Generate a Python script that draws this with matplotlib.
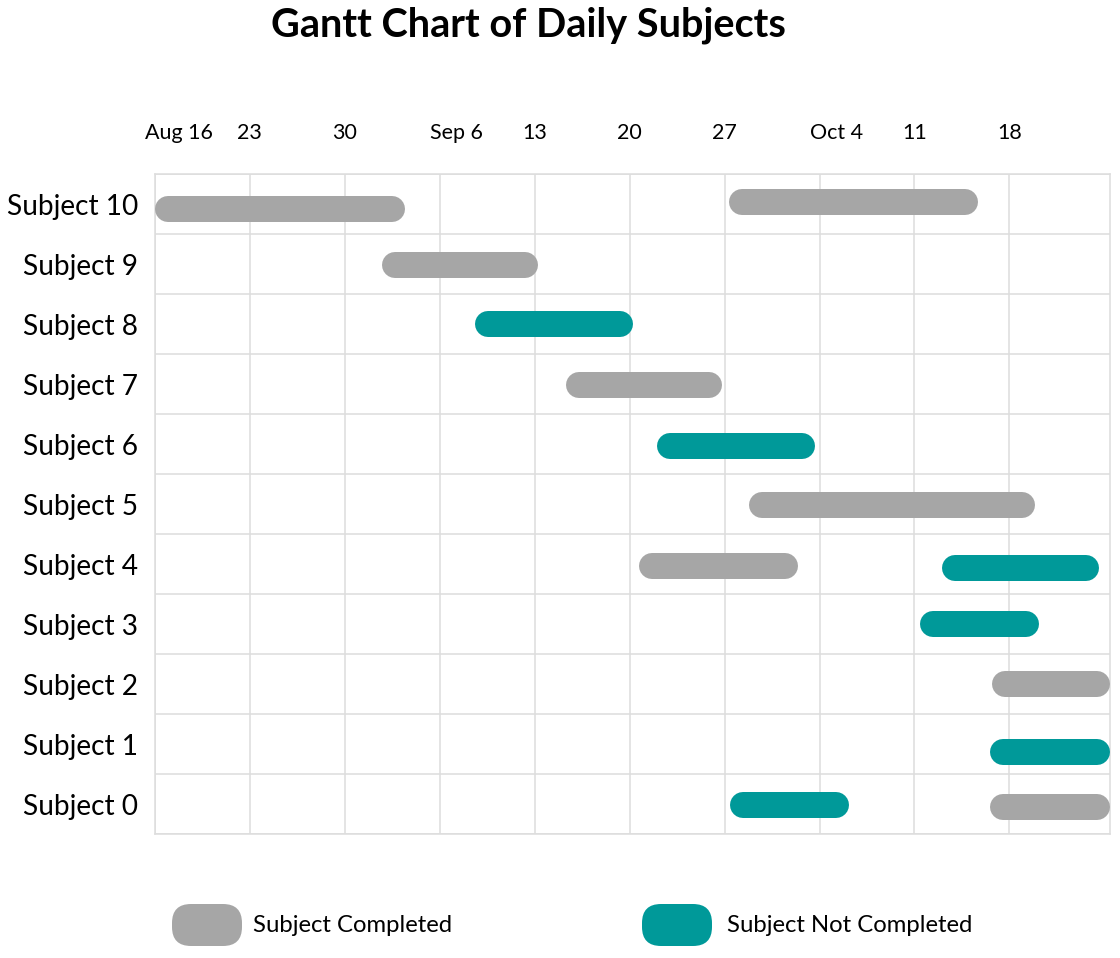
import matplotlib
matplotlib.use("Agg")
import matplotlib.pyplot as plt
import matplotlib.dates as mdates
import matplotlib.transforms as mtransforms
from matplotlib.patches import FancyBboxPatch
import pandas as pd

plt.rcParams['font.family'] = ['Lato', 'DejaVu Sans']

# ---------------- data ----------------
title = "Gantt Chart of Daily Subjects"
subjects = [f"Subject {i}" for i in range(11)]
bar_row = [9.92, 10.04, 8.99, 8.0, 6.98, 5.97, 4.98, 3.96, 3.94, 3.0, 2.0, 0.86, -0.02, -0.05]
bar_start = ["2020-08-16 00:00", "2020-09-27 07:00", "2020-09-01 17:00", "2020-09-08 14:00",
             "2020-09-15 07:00", "2020-09-22 01:00", "2020-09-28 19:00", "2020-09-20 17:00",
             "2020-10-13 00:00", "2020-10-11 10:00", "2020-10-16 17:00", "2020-10-16 14:00",
             "2020-09-27 10:00", "2020-10-16 14:00"]
bar_end = ["2020-09-03 11:00", "2020-10-15 17:00", "2020-09-13 05:00", "2020-09-20 05:00",
           "2020-09-26 20:00", "2020-10-03 16:00", "2020-10-19 22:00", "2020-10-02 10:00",
           "2020-10-24 14:00", "2020-10-20 05:00", "2020-10-25 10:00", "2020-10-25 10:00",
           "2020-10-06 05:00", "2020-10-25 10:00"]
bar_status = ["Completed", "Completed", "Completed", "Not Completed",
              "Completed", "Not Completed", "Completed", "Completed",
              "Not Completed", "Not Completed", "Completed", "Not Completed",
              "Not Completed", "Completed"]
tick_dates = ["2020-08-16", "2020-08-23", "2020-08-30", "2020-09-06", "2020-09-13",
              "2020-09-20", "2020-09-27", "2020-10-04", "2020-10-11", "2020-10-18"]
tick_labels = ["Aug 16", "23", "30", "Sep 6", "13", "20", "27", "Oct 4", "11", "18"]
legend_labels = ["Subject Completed", "Subject Not Completed"]
status_order = ["Completed", "Not Completed"]

# ---------------- style ----------------
colors = {"Completed": "#a6a6a6", "Not Completed": "#009999"}
grid_color = "#dddddd"
W, H, DPI = 1120, 958, 100

fig = plt.figure(figsize=(W / DPI, H / DPI), dpi=DPI)
ax_l, ax_r, ax_t, ax_b = 155, 1110, 174, 834
ax = fig.add_axes([ax_l / W, 1 - ax_b / H, (ax_r - ax_l) / W, (ax_b - ax_t) / H])

starts = mdates.date2num(pd.to_datetime(bar_start))
ends = mdates.date2num(pd.to_datetime(bar_end))
xmin, xmax = starts.min(), ends.max()
ax.set_xlim(xmin, xmax)
ax.set_ylim(-0.5, len(subjects) - 0.5)

bar_px = 26
px_per_day = (ax_r - ax_l) / (xmax - xmin)
r_days = (bar_px / 2) / px_per_day
for s, e, y, st in zip(starts, ends, bar_row, bar_status):
    ax.plot([s + r_days, e - r_days], [y, y], color=colors[st],
            lw=bar_px * 72 / DPI, solid_capstyle='round', zorder=3)

# x ticks: weekly, labels on top
tick_nums = mdates.date2num(pd.to_datetime(tick_dates))
ax.set_xticks(tick_nums)
ax.tick_params(axis='x', length=0, labelbottom=False, labeltop=False)
trans = mtransforms.blended_transform_factory(ax.transData, ax.transAxes)
up = mtransforms.ScaledTranslation(0, 35 / DPI, fig.dpi_scale_trans)
for tn, lab in zip(tick_nums, tick_labels):
    if not lab.isdigit():
        off = mtransforms.ScaledTranslation(-10 / DPI, 0, fig.dpi_scale_trans)
        ax.text(tn, 1.0, lab, transform=trans + up + off, ha='left', va='baseline',
                fontsize=15.5, color='black', clip_on=False)
    else:
        ax.text(tn, 1.0, lab, transform=trans + up, ha='center', va='baseline',
                fontsize=15.5, color='black', clip_on=False)

# y ticks
ax.set_yticks(range(len(subjects)))
ax.set_yticklabels(subjects, fontsize=20.2)
ax.set_yticks([i - 0.5 for i in range(len(subjects) + 1)], minor=True)
ax.tick_params(axis='y', which='both', length=0, pad=12)
ax.grid(axis='x', which='major', color=grid_color, lw=1.1, zorder=0)
ax.grid(axis='y', which='minor', color=grid_color, lw=1.1, zorder=0)
ax.set_axisbelow(True)
for sp in ax.spines.values():
    sp.set_color(grid_color)
    sp.set_linewidth(1.1)

# title
fig.text(528 / W, 1 - 25 / H, title, ha='center', va='center', fontsize=28.5, fontweight='bold')

# legend
leg_x = [172, 642]
text_gap = [81, 85]
for lx, gap, st, lab in zip(leg_x, text_gap, status_order, legend_labels):
    p = FancyBboxPatch((lx / DPI, (H - 946) / DPI), 70 / DPI, 42 / DPI,
                       boxstyle=f"round,pad=0,rounding_size={19 / DPI}",
                       transform=fig.dpi_scale_trans, facecolor=colors[st], edgecolor='none')
    fig.add_artist(p)
    fig.text((lx + gap) / DPI, (H - 925) / DPI, lab, transform=fig.dpi_scale_trans,
             ha='left', va='center', fontsize=17.2)

fig.savefig("out.png", dpi=DPI)
